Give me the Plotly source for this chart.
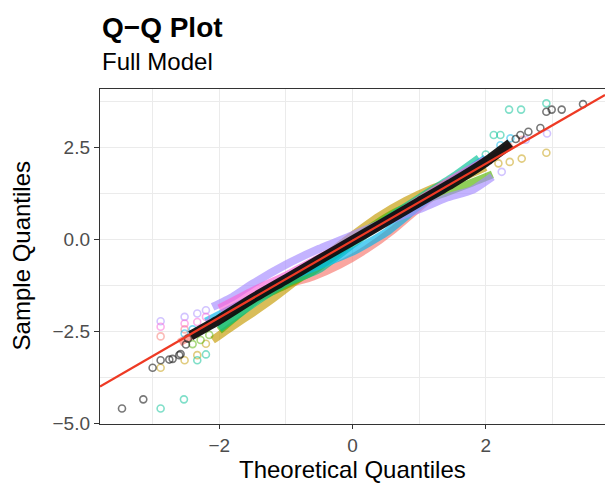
import plotly.graph_objects as go

# ---------------- data ----------------
# qq reference line (intercept, slope)
qq_intercept = -0.04
qq_slope = 1.045

group_names = ["G1", "G2", "G3", "G4", "G5", "G6", "G7"]
group_colors = ["248,118,109", "196,154,0", "83,180,0", "0,192,148",
                "0,182,235", "165,138,255", "251,97,215"]

# dense central part of each group's Q-Q curve (theoretical, sample)
g1_body_x = [-2.6, -2.0, -1.5, -1.0, -0.6, -0.2, 0.2, 0.6, 1.0, 1.5, 2.0, 2.4]
g1_body_y = [-2.81, -2.18, -1.66, -1.24, -1.02, -0.70, -0.28, 0.24, 0.86, 1.58, 2.10, 2.57]
g2_body_x = [-2.1, -1.8, -1.5, -1.2, -0.8, -0.4, 0.0, 0.4, 0.8, 1.2, 1.6, 2.0]
g2_body_y = [-2.74, -2.36, -2.00, -1.62, -1.06, -0.46, 0.10, 0.62, 1.04, 1.38, 1.64, 1.96]
g3_body_x = [-2.0, -1.7, -1.4, -1.0, -0.6, -0.2, 0.2, 0.6, 1.0, 1.4, 1.8, 2.1]
g3_body_y = [-2.48, -2.02, -1.60, -1.24, -0.87, -0.35, 0.22, 0.69, 1.01, 1.27, 1.54, 1.76]
g4_body_x = [-2.0, -1.5, -1.0, -0.5, 0.0, 0.5, 1.0, 1.5, 1.9]
g4_body_y = [-2.43, -1.76, -1.19, -0.81, -0.14, 0.53, 1.11, 1.68, 2.20]
g5_body_x = [-2.2, -1.8, -1.4, -1.0, -0.5, 0.0, 0.5, 1.0, 1.5, 2.0]
g5_body_y = [-2.24, -1.87, -1.50, -1.09, -0.71, -0.34, 0.18, 0.91, 1.58, 2.20]
g6_body_x = [-2.1, -1.8, -1.5, -1.0, -0.5, 0.0, 0.5, 1.0, 1.4, 1.8, 2.1]
g6_body_y = [-1.84, -1.57, -1.21, -0.69, -0.26, 0.11, 0.48, 0.81, 1.12, 1.34, 1.70]
g7_body_x = [-2.0, -1.5, -1.0, -0.5, 0.0, 0.5, 1.0, 1.5, 2.0]
g7_body_y = [-1.88, -1.41, -0.99, -0.51, -0.04, 0.48, 1.06, 1.63, 2.15]

# individual tail points of each group
g1_tail_x = [-2.88, -2.52, 2.55]
g1_tail_y = [-2.64, -2.45, 2.70]
g2_tail_x = [-2.88, -2.52, -2.33, -2.20, 2.19, 2.36, 2.54, 2.91]
g2_tail_y = [-3.49, -3.29, -3.15, -2.84, 2.06, 2.10, 2.19, 2.35]
g3_tail_x = [-2.40, -2.28, -2.15]
g3_tail_y = [-2.85, -2.74, -2.60]
g4_tail_x = [-2.88, -2.53, -2.33, -2.20, 2.00, 2.12, 2.22, 2.35, 2.53, 2.91]
g4_tail_y = [-4.60, -4.35, -3.29, -3.13, 2.30, 2.83, 2.83, 3.52, 3.52, 3.69]
g5_tail_x = [-2.52, -2.40, 2.22, 2.37]
g5_tail_y = [-2.56, -2.45, 2.55, 2.74]
g6_tail_x = [-2.88, -2.52, -2.33, -2.20, 2.24, 2.60, 2.92]
g6_tail_y = [-2.23, -2.11, -2.02, -1.93, 1.83, 2.70, 2.87]
g7_tail_x = [-2.88, -2.52, -2.33, -2.20]
g7_tail_y = [-2.38, -2.29, -2.25, -2.11]

# full model residuals (black)
full_body_x = [-2.43, -2.0, -1.5, -1.0, -0.5, 0.0, 0.5, 1.0, 1.5, 2.0, 2.37]
full_body_y = [-2.62, -2.18, -1.61, -1.09, -0.56, -0.04, 0.48, 1.01, 1.53, 2.10, 2.60]
full_tail_x = [-3.46, -3.14, -3.00, -2.88, -2.75, -2.70, -2.60, -2.58, -2.50, -2.47,
               2.45, 2.52, 2.64, 2.82, 2.91, 2.99, 3.14, 3.46]
full_tail_y = [-4.60, -4.35, -3.49, -3.29, -3.27, -3.25, -3.15, -3.12, -2.86, -2.70,
               2.72, 2.83, 2.92, 3.02, 3.46, 3.52, 3.52, 3.67]

x_tick_vals = [-2, 0, 2]
x_tick_text = ["\u22122", "0", "2"]
y_tick_vals = [-5.0, -2.5, 0.0, 2.5]
y_tick_text = ["\u22125.0", "\u22122.5", "0.0", "2.5"]
x_range = [-3.79, 3.79]
y_range = [-5.02, 4.08]

title_text = "Q\u2212Q Plot"
subtitle_text = "Full Model"
x_title = "Theoretical Quantiles"
y_title = "Sample Quantiles"

# ---------------- figure ----------------
bodies = [(g1_body_x, g1_body_y), (g2_body_x, g2_body_y), (g3_body_x, g3_body_y),
          (g4_body_x, g4_body_y), (g5_body_x, g5_body_y), (g6_body_x, g6_body_y),
          (g7_body_x, g7_body_y)]
tails = [(g1_tail_x, g1_tail_y), (g2_tail_x, g2_tail_y), (g3_tail_x, g3_tail_y),
         (g4_tail_x, g4_tail_y), (g5_tail_x, g5_tail_y), (g6_tail_x, g6_tail_y),
         (g7_tail_x, g7_tail_y)]

FONT = "Liberation Sans, Arial, Helvetica, sans-serif"
fig = go.Figure()

for name, col, (bx, by), (tx, ty) in zip(group_names, group_colors, bodies, tails):
    fig.add_trace(go.Scatter(
        x=bx, y=by, mode="lines", name=name,
        line=dict(color=f"rgba({col},0.65)", width=8, shape="spline", smoothing=0.5),
        hoverinfo="skip"))
    fig.add_trace(go.Scatter(
        x=tx, y=ty, mode="markers", name=name,
        marker=dict(symbol="circle-open", size=7, color=f"rgba({col},0.5)",
                    line=dict(color=f"rgba({col},0.5)", width=1.6)),
        hoverinfo="skip"))

fig.add_trace(go.Scatter(
    x=full_body_x, y=full_body_y, mode="lines", name="Full",
    line=dict(color="rgba(10,10,10,0.92)", width=10, shape="spline", smoothing=0.5)))
fig.add_trace(go.Scatter(
    x=full_tail_x, y=full_tail_y, mode="markers", name="Full",
    marker=dict(symbol="circle-open", size=7, color="rgba(30,30,30,0.6)",
                line=dict(color="rgba(30,30,30,0.6)", width=1.6))))

fig.add_trace(go.Scatter(
    x=x_range, y=[qq_intercept + qq_slope * v for v in x_range],
    mode="lines", line=dict(color="#EE3A24", width=2.2), name="qqline"))

fig.update_layout(
    width=605, height=484,
    margin=dict(l=100, r=0, t=89, b=60),
    plot_bgcolor="white", paper_bgcolor="white",
    showlegend=False,
    font=dict(family=FONT, color="black"),
)
fig.update_xaxes(
    range=x_range, tickvals=x_tick_vals, ticktext=x_tick_text,
    showgrid=True, gridcolor="#EBEBEB", gridwidth=1.3, zeroline=False,
    minor=dict(tickvals=[-3, -1, 1, 3], showgrid=True, gridcolor="#EBEBEB", gridwidth=1.0),
    ticks="outside", ticklen=4, tickwidth=1.2, tickcolor="#333333",
    showline=True, linecolor="#333333", linewidth=1.4, mirror=True,
    tickfont=dict(family=FONT, size=19, color="#4D4D4D"),
)
fig.update_yaxes(
    range=y_range, tickvals=y_tick_vals, ticktext=y_tick_text,
    showgrid=True, gridcolor="#EBEBEB", gridwidth=1.3, zeroline=False,
    minor=dict(tickvals=[-3.75, -1.25, 1.25, 3.75], showgrid=True, gridcolor="#EBEBEB", gridwidth=1.0),
    ticks="outside", ticklen=5, tickwidth=1.2, tickcolor="#333333",
    showline=True, linecolor="#333333", linewidth=1.4, mirror=False,
    tickfont=dict(family=FONT, size=19, color="#4D4D4D"),
)

fig.add_annotation(text=f"<b>{title_text}</b>", xref="paper", yref="paper",
                   x=0, y=1.185, xanchor="left", yanchor="middle", showarrow=False,
                   font=dict(family=FONT, size=28, color="black"))
fig.add_annotation(text=subtitle_text, xref="paper", yref="paper",
                   x=0, y=1.081, xanchor="left", yanchor="middle", showarrow=False,
                   font=dict(family=FONT, size=24, color="black"))
fig.add_annotation(text=x_title, xref="paper", yref="paper",
                   x=0.5, y=-0.136, xanchor="center", yanchor="middle", showarrow=False,
                   font=dict(family=FONT, size=24, color="black"))
fig.add_annotation(text=y_title, xref="paper", yref="paper", textangle=-90,
                   x=-0.156, y=0.501, xanchor="center", yanchor="middle", showarrow=False,
                   font=dict(family=FONT, size=24, color="black"))

fig.write_html("out.html", config={"displayModeBar": False},
               post_script="document.body.style.margin='0';document.body.style.overflow='hidden';")
